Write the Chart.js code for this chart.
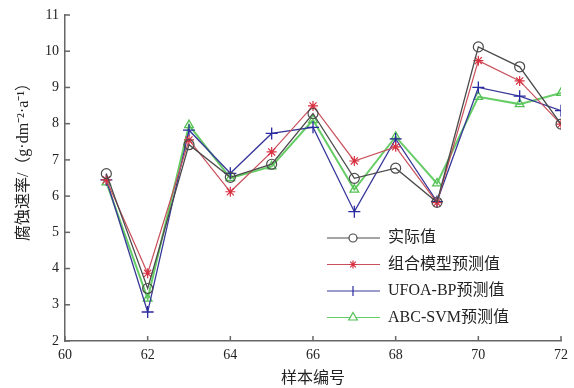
<!DOCTYPE html>
<html>
<head>
<meta charset="utf-8">
<script src="https://cdn.jsdelivr.net/npm/chart.js@4/dist/chart.umd.min.js"></script>
<style>
  html, body { margin: 0; padding: 0; background: #fff; }
  #wrap { width: 574px; height: 388px; }
</style>
</head>
<body>
<div id="wrap"><canvas id="chart"></canvas></div>
<script>
// sample numbers 61..72
const samples = [61, 62, 63, 64, 65, 66, 67, 68, 69, 70, 71, 72];
const actual   = [6.62, 3.45, 7.42, 6.52, 6.88, 8.28, 6.49, 6.77, 5.83, 10.12, 9.57, 7.99];
const combined = [6.45, 3.87, 7.55, 6.12, 7.22, 8.49, 6.97, 7.36, 5.82, 9.74, 9.18, 7.99];
const ufoaBp   = [6.45, 2.80, 7.82, 6.63, 7.73, 7.90, 5.57, 7.58, 5.85, 9.00, 8.76, 8.36];
const abcSvm   = [6.38, 3.17, 7.96, 6.50, 6.82, 8.10, 6.18, 7.64, 6.35, 8.74, 8.54, 8.85];

const xTicks = [60, 62, 64, 66, 68, 70, 72];
const yTicks = [2, 3, 4, 5, 6, 7, 8, 9, 10, 11];

const seriesNames = ['实际值', '组合模型预测值', 'UFOA-BP预测值', 'ABC-SVM预测值'];
const yTitle = '腐蚀速率/（g·dm⁻²·a⁻¹）';

const serif = '"Liberation Serif", "Noto Sans CJK SC", serif';

function pts(arr) {
    return samples.map(function(x, i) { return { x: x, y: arr[i] }; });
}

const data = {
    datasets: [
        {
            label: seriesNames[0],
            data: pts(actual),
            borderColor: '#4a4a4a',
            borderWidth: 1.3,
            pointStyle: 'circle',
            pointRadius: 5,
            pointBorderColor: '#4a4a4a',
            pointBackgroundColor: 'rgba(0,0,0,0)',
            pointBorderWidth: 1.2,
            legendStyle: 'circle', legendRadius: 4
        },
        {
            label: seriesNames[1],
            data: pts(combined),
            borderColor: '#c8505a',
            borderWidth: 1.2,
            pointStyle: 'star',
            pointRadius: 5,
            pointBorderColor: '#d83040',
            pointBackgroundColor: '#d83040',
            pointBorderWidth: 1.2,
            legendStyle: 'star', legendRadius: 4
        },
        {
            label: seriesNames[2],
            data: pts(ufoaBp),
            borderColor: '#38389a',
            borderWidth: 1.3,
            pointStyle: 'cross',
            pointRadius: 6,
            pointBorderColor: '#2a2aa0',
            pointBorderWidth: 1.3,
            legendStyle: 'line', legendRadius: 5, legendRotation: 90
        },
        {
            label: seriesNames[3],
            data: pts(abcSvm),
            borderColor: '#66cc66',
            borderWidth: 2,
            pointStyle: 'triangle',
            pointRadius: 5,
            pointBorderColor: '#55c055',
            pointBackgroundColor: 'rgba(0,0,0,0)',
            pointBorderWidth: 1.3,
            legendStyle: 'triangle', legendRadius: 5
        }
    ]
};

// inward tick marks, y title and legend inside the plot
const decor = {
    id: 'decor',
    afterDraw: function(chart) {
        const ctx = chart.ctx;
        const xs = chart.scales.x, ys = chart.scales.y;
        const area = chart.chartArea;
        ctx.save();
        ctx.strokeStyle = '#666';
        ctx.lineWidth = 1.5;
        xTicks.forEach(function(v) {
            const px = xs.getPixelForValue(v);
            ctx.beginPath();
            ctx.moveTo(px, area.bottom);
            ctx.lineTo(px, area.bottom - 5);
            ctx.stroke();
        });
        yTicks.forEach(function(v) {
            const py = ys.getPixelForValue(v);
            ctx.beginPath();
            ctx.moveTo(area.left, py);
            ctx.lineTo(area.left + 5, py);
            ctx.stroke();
        });

        // y axis title
        ctx.save();
        ctx.translate(24, 158);
        ctx.rotate(-Math.PI / 2);
        ctx.font = '16px ' + serif;
        ctx.fillStyle = '#222';
        ctx.textAlign = 'center';
        ctx.textBaseline = 'middle';
        ctx.fillText(yTitle, 0, 0);
        ctx.restore();

        // legend
        const lx = 327, ly = 238, gap = 26.5;
        ctx.font = '16px ' + serif;
        ctx.textBaseline = 'middle';
        chart.data.datasets.forEach(function(ds, i) {
            const y = ly + i * gap;
            ctx.strokeStyle = ds.borderColor;
            ctx.lineWidth = 1.2;
            ctx.beginPath();
            ctx.moveTo(lx, y);
            ctx.lineTo(lx + 53, y);
            ctx.stroke();
            ctx.strokeStyle = ds.pointBorderColor;
            ctx.fillStyle = '#fff';
            Chart.helpers.drawPoint(ctx, {
                pointStyle: ds.legendStyle,
                radius: ds.legendRadius,
                borderWidth: 1.1,
                rotation: ds.legendRotation || 0
            }, lx + 26, y);
            ctx.fillStyle = '#222';
            ctx.fillText(ds.label, lx + 61, y);
        });
        ctx.restore();
    }
};

const config = {
    type: 'line',
    data: data,
    options: {
        responsive: true,
        maintainAspectRatio: false,
        animation: false,
        layout: { padding: { top: 15, right: 8, left: 0, bottom: 0 } },
        plugins: {
            legend: { display: false },
            tooltip: { enabled: false }
        },
        scales: {
            x: {
                type: 'linear',
                min: 60,
                max: 72,
                afterBuildTicks: function(scale) {
                    scale.ticks = xTicks.map(function(v) { return { value: v }; });
                },
                grid: { drawOnChartArea: false, drawTicks: false },
                border: { color: '#666', width: 1.5 },
                ticks: { color: '#222', font: { family: serif, size: 14 }, padding: 6, maxRotation: 0 },
                title: { display: true, text: '样本编号', color: '#222', font: { family: serif, size: 16 }, padding: { top: 1, bottom: 0 } },
                afterFit: function(scale) { scale.height = 47; }
            },
            y: {
                min: 2,
                max: 11,
                afterBuildTicks: function(scale) {
                    scale.ticks = yTicks.map(function(v) { return { value: v }; });
                },
                grid: { drawOnChartArea: false, drawTicks: false },
                border: { color: '#666', width: 1.5 },
                ticks: { color: '#222', font: { family: serif, size: 14 }, padding: 6 },
                afterFit: function(scale) { scale.width = 65; }
            }
        }
    },
    plugins: [decor]
};

const chart = new Chart(document.getElementById('chart'), config);
</script>
</body>
</html>
